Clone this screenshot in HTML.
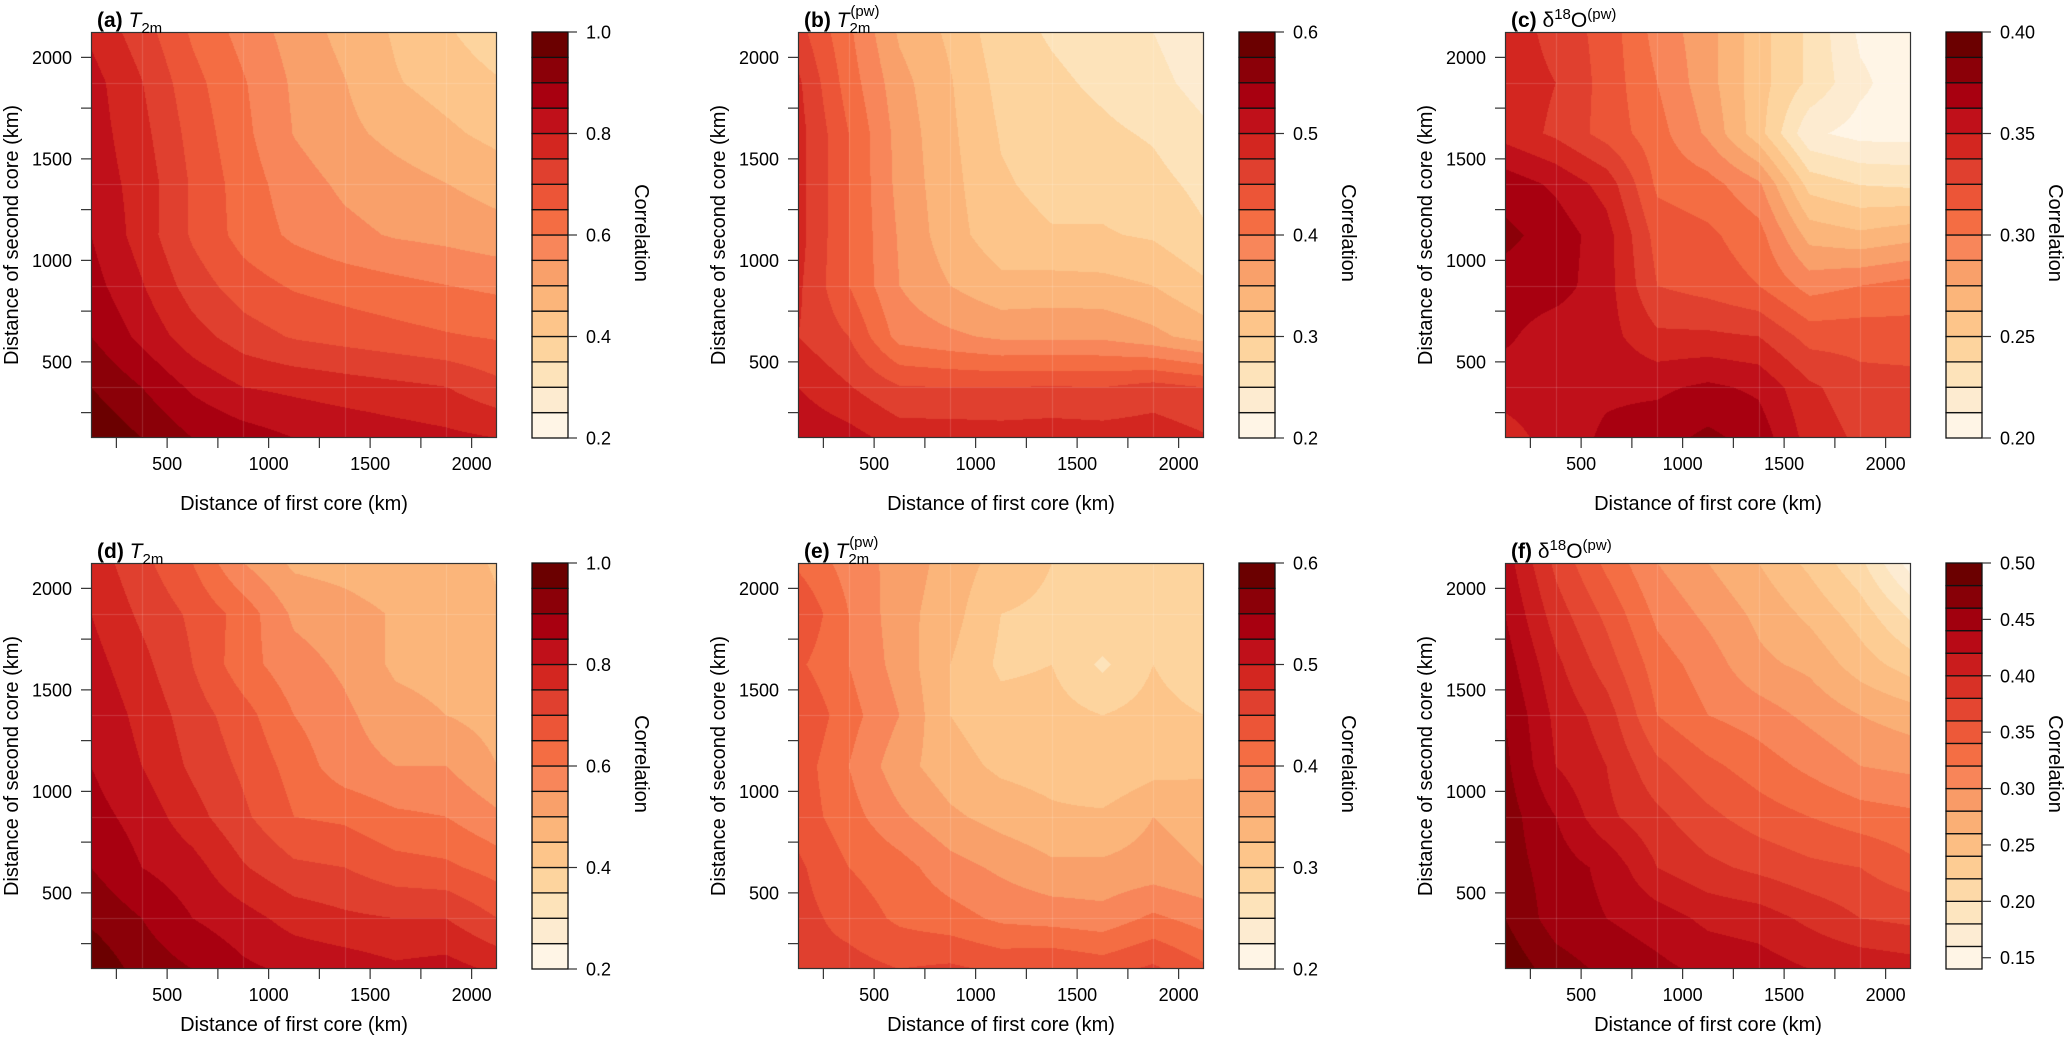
<!DOCTYPE html>
<html><head><meta charset="utf-8">
<style>
html,body{margin:0;padding:0;background:#fff;}
#root{position:relative;width:2067px;height:1050px;overflow:hidden;font-family:"Liberation Sans",Arial,sans-serif;}
canvas{position:absolute;}
svg{position:absolute;left:0;top:0;}
</style></head>
<body>
<div id="root">
<svg id="svg" width="2067" height="1050"></svg>
</div>
<script>
// ---------- data ----------
const xKm = [125,375,625,875,1125,1375,1625,1875,2125];
const yKm = [125,375,625,875,1125,1375,1625,1875,2125];
const xTickValues = [250,500,750,1000,1250,1500,1750,2000];
const xTickLabels = ["","500","","1000","","1500","","2000"];
// rows listed from top (y=2125 km) to bottom (y=125 km)
const valuesA = [
[.79,.724,.642,.582,.528,.484,.444,.406,.37],
[.82,.752,.667,.605,.542,.502,.454,.43,.405],
[.825,.766,.682,.613,.548,.513,.485,.46,.435],
[.83,.78,.693,.626,.573,.54,.52,.501,.48],
[.85,.778,.693,.631,.59,.564,.545,.535,.52],
[.87,.804,.726,.674,.644,.629,.615,.601,.59],
[.90,.837,.772,.724,.695,.681,.668,.655,.645],
[.95,.90,.841,.80,.788,.775,.763,.751,.715],
[.995,.95,.90,.875,.85,.838,.825,.813,.80]];
const valuesB = [
[.46,.405,.346,.32,.285,.272,.262,.25,.232],
[.48,.413,.359,.327,.292,.28,.27,.258,.24],
[.485,.425,.365,.33,.298,.287,.28,.272,.255],
[.485,.425,.367,.333,.303,.293,.293,.283,.268],
[.485,.425,.372,.335,.31,.302,.302,.297,.278],
[.48,.425,.375,.35,.332,.335,.333,.325,.305],
[.475,.45,.39,.38,.37,.37,.37,.357,.339],
[.50,.477,.452,.45,.45,.452,.45,.46,.45],
[.52,.51,.49,.49,.488,.49,.488,.49,.478]];
const valuesC = [
[.345,.333,.32,.295,.28,.255,.235,.21,.205],
[.345,.3375,.32,.30,.28,.255,.235,.215,.205],
[.345,.335,.32,.305,.285,.255,.215,.208,.208],
[.37,.36,.345,.31,.305,.29,.245,.237,.235],
[.378,.37,.355,.32,.315,.305,.27,.265,.27],
[.37,.368,.355,.325,.32,.3125,.295,.30,.305],
[.365,.355,.355,.34,.34,.3375,.32,.32,.318],
[.355,.357,.36,.36,.365,.36,.34,.33,.33],
[.345,.355,.365,.37,.378,.37,.345,.335,.33]];
const valuesD = [
[.78,.715,.65,.55,.49,.48,.465,.47,.445],
[.80,.74,.69,.63,.54,.52,.495,.495,.455],
[.82,.765,.70,.62,.57,.54,.49,.48,.465],
[.84,.785,.725,.67,.60,.56,.52,.50,.48],
[.85,.80,.74,.69,.63,.57,.55,.55,.50],
[.87,.83,.77,.71,.65,.64,.61,.60,.56],
[.90,.85,.82,.755,.71,.70,.67,.66,.63],
[.94,.90,.85,.82,.78,.76,.75,.75,.70],
[.99,.93,.90,.86,.84,.83,.81,.82,.79]];
const valuesE = [
[.42,.39,.365,.34,.315,.30,.28,.29,.275],
[.45,.40,.36,.335,.30,.295,.30,.29,.30],
[.43,.40,.365,.325,.295,.30,.27,.30,.28],
[.45,.41,.375,.325,.31,.31,.30,.31,.30],
[.44,.40,.36,.335,.32,.315,.30,.315,.32],
[.44,.41,.38,.355,.34,.33,.33,.35,.34],
[.455,.425,.41,.385,.37,.355,.355,.36,.35],
[.46,.44,.42,.41,.395,.39,.385,.405,.39],
[.46,.46,.45,.455,.445,.45,.44,.455,.43]];
const valuesF = [
[.43,.375,.335,.30,.28,.26,.235,.205,.15],
[.44,.39,.355,.315,.295,.275,.255,.23,.195],
[.45,.405,.37,.33,.31,.285,.275,.25,.23],
[.46,.415,.39,.34,.32,.31,.295,.28,.27],
[.465,.42,.40,.365,.345,.33,.315,.30,.295],
[.47,.44,.405,.385,.365,.35,.34,.33,.325],
[.47,.45,.435,.40,.385,.375,.365,.36,.345],
[.48,.45,.44,.43,.415,.41,.395,.38,.375],
[.495,.47,.455,.445,.435,.43,.42,.415,.41]];
const cbTicksA = ["0.2","0.4","0.6","0.8","1.0"];
const cbTicksB = ["0.2","0.3","0.4","0.5","0.6"];
const cbTicksC = ["0.20","0.25","0.30","0.35","0.40"];
const cbTicksF = ["0.15","0.20","0.25","0.30","0.35","0.40","0.45","0.50"];

const palette = ["#FFF5E6","#FDEBD0","#FDE3BA","#FDD49E","#FDC58A","#FBB57A","#F9A06A","#F8865A",
"#F46D43","#EC5537","#E0402F","#D32620","#C0101A","#A80010","#8B0008","#6B0000"];

const PW=406, PH=406;
const panels = [
 {key:"a", left:91, top:32, values:valuesA, lo:0.2, hi:1.0, step:0.05, ticks:cbTicksA, title:"T2m", xtOff:72},
 {key:"b", left:798, top:32, values:valuesB, lo:0.2, hi:0.6, step:0.025, ticks:cbTicksB, title:"T2mpw", xtOff:72},
 {key:"c", left:1505, top:32, values:valuesC, lo:0.2, hi:0.4, step:0.0125, ticks:cbTicksC, title:"d18O", xtOff:72},
 {key:"d", left:91, top:563, values:valuesD, lo:0.2, hi:1.0, step:0.05, ticks:cbTicksA, title:"T2m", xtOff:62},
 {key:"e", left:798, top:563, values:valuesE, lo:0.2, hi:0.6, step:0.025, ticks:cbTicksB, title:"T2mpw", xtOff:62},
 {key:"f", left:1505, top:563, values:valuesF, lo:0.14, hi:0.5, step:0.02, ticks:cbTicksF, title:"d18O", xtOff:62}
];

function hexToRgb(h){return [parseInt(h.substr(1,2),16),parseInt(h.substr(3,2),16),parseInt(h.substr(5,2),16)];}
function rampColor(t){
  const p=t*(palette.length-1); const i=Math.min(Math.floor(p),palette.length-2); const f=p-i;
  const a=hexToRgb(palette[i]), b=hexToRgb(palette[i+1]);
  return [Math.round(a[0]+(b[0]-a[0])*f),Math.round(a[1]+(b[1]-a[1])*f),Math.round(a[2]+(b[2]-a[2])*f)];
}
function rgbStr(c){return "rgb("+c[0]+","+c[1]+","+c[2]+")";}
function gridIndex(arr,v){
  if(v<=arr[0])return 0; const n=arr.length-1; if(v>=arr[n])return n;
  for(let i=0;i<n;i++){ if(v<=arr[i+1]) return i+(v-arr[i])/(arr[i+1]-arr[i]); }
  return n;
}
const NS="http://www.w3.org/2000/svg";
const svg=document.getElementById("svg");
function mk(tag,attrs,parent){const e=document.createElementNS(NS,tag);for(const k in attrs)e.setAttribute(k,attrs[k]);(parent||svg).appendChild(e);return e;}

panels.forEach(P=>{
  const xMin=xKm[0], xMax=xKm[xKm.length-1], yMin=yKm[0], yMax=yKm[yKm.length-1];
  const xS=km=>P.left+(km-xMin)/(xMax-xMin)*PW;
  const yS=km=>P.top+PH-(km-yMin)/(yMax-yMin)*PH;
  const nLev=Math.round((P.hi-P.lo)/P.step);
  const cols=[]; for(let k=0;k<nLev;k++) cols.push(rampColor(k/(nLev-1)));
  // ---- contour fill (canvas) ----
  const cv=document.createElement("canvas");
  cv.width=PW; cv.height=PH; cv.style.left=P.left+"px"; cv.style.top=P.top+"px";
  
  
  document.getElementById("root").insertBefore(cv, svg);
  const ctx=cv.getContext("2d"); const img=ctx.createImageData(PW,PH);
  const nr=P.values.length;
  for(let py=0;py<PH;py++){
    const ykm=yMax-(py+0.5)/PH*(yMax-yMin);
    const gy=gridIndex(yKm,ykm); const j0=Math.min(Math.floor(gy),yKm.length-2); const fy=gy-j0;
    const r0=nr-1-j0, r1=nr-2-j0;
    for(let px=0;px<PW;px++){
      const xkm=xMin+(px+0.5)/PW*(xMax-xMin);
      const gx=gridIndex(xKm,xkm); const i0=Math.min(Math.floor(gx),xKm.length-2); const fx=gx-i0;
      const v=(P.values[r0][i0]*(1-fx)+P.values[r0][i0+1]*fx)*(1-fy)+(P.values[r1][i0]*(1-fx)+P.values[r1][i0+1]*fx)*fy;
      let k=Math.floor((v-P.lo)/P.step+1e-9); if(k<0)k=0; if(k>nLev-1)k=nLev-1;
      const c=cols[k]; const o=(py*PW+px)*4;
      img.data[o]=c[0];img.data[o+1]=c[1];img.data[o+2]=c[2];img.data[o+3]=255;
    }
  }
  ctx.putImageData(img,0,0);
  ctx.strokeStyle="rgba(255,255,255,0.16)"; ctx.lineWidth=1;
  for(let i=1;i<xKm.length-1;i+=2){
    const gx=Math.round(xS(xKm[i])-P.left)+0.5, gy=Math.round(yS(yKm[i])-P.top)+0.5;
    ctx.beginPath();ctx.moveTo(gx,0);ctx.lineTo(gx,PH);ctx.stroke();
    ctx.beginPath();ctx.moveTo(0,gy);ctx.lineTo(PW,gy);ctx.stroke();
  }
  // ---- axes ----
  const g=mk("g",{});
  
  
  const frame=mk("rect",{x:P.left+0.5,y:P.top+0.5,width:PW-1,height:PH-1,fill:"none",stroke:"#333","stroke-width":1.2},g);
  
  
  xTickValues.forEach((t,i)=>{
    const x=xS(t);
    const tl=mk("line",{x1:x,x2:x,y1:P.top+PH,y2:P.top+PH+10,stroke:"#333","stroke-width":1.2},g);
    
    
    if(xTickLabels[i]){
      const tx=mk("text",{x:x,y:P.top+PH+32,"text-anchor":"middle","font-size":18,fill:"#000"},g);
      tx.textContent=xTickLabels[i];
      
      
    }
    const y=yS(t);
    const yl=mk("line",{x1:P.left-10,x2:P.left,y1:y,y2:y,stroke:"#333","stroke-width":1.2},g);
    
    
    if(xTickLabels[i]){
      const ty=mk("text",{x:P.left-19,y:y+6.5,"text-anchor":"end","font-size":18,fill:"#000"},g);
      ty.textContent=xTickLabels[i];
      
      
    }
  });
  const xt=mk("text",{x:P.left+PW/2,y:P.top+PH+P.xtOff,"text-anchor":"middle","font-size":20,fill:"#000"},g);
  xt.textContent="Distance of first core (km)";
  
  
  const ycx=P.left-73, ycy=P.top+PH/2;
  const yt=mk("text",{x:ycx,y:ycy,"text-anchor":"middle","font-size":20,fill:"#000",transform:"rotate(-90 "+ycx+" "+ycy+")"},g);
  yt.textContent="Distance of second core (km)";
  
  
  // title
  const tt=mk("text",{x:P.left+6,y:P.top-5,"font-size":21,fill:"#000"},g);
  
  
  let html='<tspan font-weight="bold">('+P.key+')</tspan> ';
  if(P.title==="T2m") html+='<tspan font-style="italic">T</tspan><tspan font-size="15" dy="6">2m</tspan>';
  else if(P.title==="T2mpw") html+='<tspan font-style="italic">T</tspan><tspan font-size="15" dy="6">2m</tspan><tspan font-size="15" dx="-20" dy="-17">(pw)</tspan>';
  else html+='δ<tspan font-size="15" dy="-8">18</tspan><tspan dy="8">O</tspan><tspan font-size="15" dy="-8">(pw)</tspan>';
  tt.innerHTML=html;
  // ---- colorbar ----
  const cbL=P.left+441, cbW=36;
  const cbS=v=>P.top+PH-(v-P.lo)/(P.hi-P.lo)*PH;
  for(let k=0;k<nLev;k++){
    const y1=cbS(P.lo+(k+1)*P.step), y2=cbS(P.lo+k*P.step);
    const r=mk("rect",{x:cbL,y:y1,width:cbW,height:y2-y1,fill:rgbStr(cols[k]),stroke:"#111","stroke-width":1.3},g);
    
    
  }
  P.ticks.forEach(t=>{
    const y=cbS(parseFloat(t));
    const l=mk("line",{x1:cbL+cbW,x2:cbL+cbW+9,y1:y,y2:y,stroke:"#333","stroke-width":1.2},g);
    
    
    const tx=mk("text",{x:cbL+cbW+18,y:y+6.5,"font-size":18,fill:"#000"},g);
    tx.textContent=t;
    
    
  });
  const lx=cbL+103, ly=P.top+PH/2-2;
  const lt=mk("text",{x:lx,y:ly,"text-anchor":"middle","font-size":20,fill:"#000",transform:"rotate(90 "+lx+" "+ly+")"},g);
  lt.textContent="Correlation";
  
  
});
</script>
</body></html>
